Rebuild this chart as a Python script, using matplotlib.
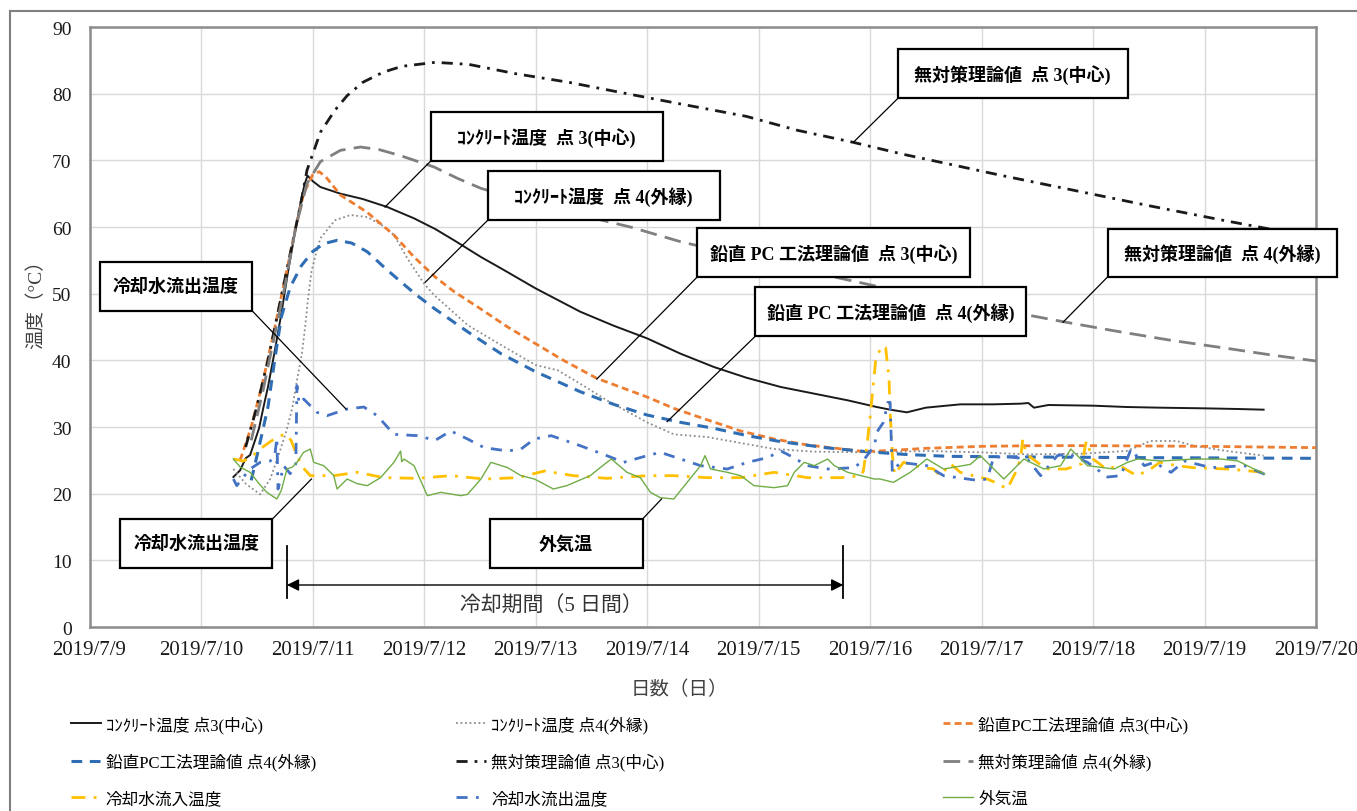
import matplotlib
matplotlib.use('Agg')
import matplotlib.pyplot as plt
from matplotlib.patches import Rectangle
from matplotlib.lines import Line2D

plt.rcParams['font.family'] = ['Liberation Serif', 'Noto Sans CJK JP']

# x = day of July 2019 (fractional), y = temperature (°C)
conc3_day = [10.29, 10.35, 10.40, 10.44, 10.48, 10.52, 10.56, 10.60, 10.66, 10.72, 10.78, 10.84, 10.90, 10.93,
             10.955, 11.0, 11.07, 11.25, 11.45, 11.67, 11.91, 12.10, 12.27, 12.51, 12.69, 13.0, 13.4, 13.7, 14.0,
             14.3, 14.6, 14.89, 15.2, 15.5, 15.8, 16.06, 16.18, 16.33, 16.5, 16.81, 17.1, 17.35, 17.42, 17.47,
             17.6, 18.0, 18.3, 18.6, 19.0, 19.3, 19.53]
conc3_temp = [22.5, 23.5, 25.3, 25.8, 27.8, 29.8, 33.0, 36.0, 41.3, 47.0, 53.3, 59.0, 64.3, 66.5,
              67.7, 66.9, 66.0, 65.0, 64.2, 63.0, 61.3, 59.7, 58.0, 55.5, 53.8, 50.8, 47.3, 45.2, 43.3,
              41.0, 39.0, 37.4, 36.0, 35.0, 34.0, 33.0, 32.6, 32.2, 32.9, 33.4, 33.4, 33.5, 33.6, 32.9,
              33.3, 33.2, 33.0, 32.9, 32.8, 32.7, 32.6]

conc4_day = [10.29, 10.4, 10.53, 10.62, 10.70, 10.77, 10.82, 10.86, 10.90, 10.93, 10.96, 10.99, 11.03, 11.07,
             11.2, 11.34, 11.49, 11.62, 11.73, 11.85, 12.0, 12.09, 12.39, 12.69, 13.0, 13.2, 13.4, 13.64, 14.0,
             14.24, 14.54, 14.84, 15.14, 15.5, 16.0, 16.51, 17.0, 17.4, 17.9, 18.3, 18.42, 18.51, 18.75, 18.9,
             19.2, 19.53]
conc4_temp = [23.7, 21.5, 19.9, 22.2, 26.0, 29.7, 33.0, 37.0, 40.5, 44.5, 49.3, 53.3, 56.0, 58.3,
              61.0, 61.8, 61.5, 60.3, 58.8, 55.3, 51.5, 49.8, 45.3, 42.3, 39.3, 38.5, 36.5, 34.0, 30.7,
              28.9, 28.5, 27.6, 26.7, 26.3, 26.2, 26.4, 26.2, 25.9, 26.0, 26.4, 27.2, 27.9, 27.9, 27.2,
              26.4, 25.7]

pc3_day = [10.35, 10.45, 10.55, 10.65, 10.75, 10.85, 10.92, 11.0, 11.06, 11.12, 11.25, 11.49, 11.73, 11.91,
           12.1, 12.27, 12.5, 12.75, 13.0, 13.25, 13.55, 14.0, 14.24, 14.5, 14.84, 15.14, 15.44, 15.7, 15.95,
           16.2, 16.5, 17.0, 17.5, 18.0, 19.0, 20.0]
pc3_temp = [25.0, 30.0, 36.5, 44.0, 52.0, 60.0, 65.0, 67.8, 68.3, 67.5, 64.8, 62.2, 58.8, 55.5,
            52.5, 50.3, 47.8, 45.0, 42.5, 40.0, 37.3, 34.5, 32.8, 31.3, 29.4, 28.2, 27.3, 26.8, 26.3,
            26.5, 26.8, 27.1, 27.2, 27.2, 27.1, 26.9]

pc4_day = [10.45, 10.52, 10.6, 10.66, 10.72, 10.8, 10.9, 11.0, 11.1, 11.22, 11.35, 11.49, 11.64, 11.79,
           11.94, 12.09, 12.39, 12.69, 13.0, 13.4, 13.7, 14.0, 14.3, 14.6, 14.9, 15.2, 15.6, 15.97, 16.3,
           16.7, 17.5, 18.5, 20.0]
pc4_temp = [22.0, 27.0, 33.0, 40.0, 46.5, 51.0, 54.2, 56.3, 57.5, 58.0, 57.6, 56.3, 54.0, 51.8,
            49.7, 47.8, 44.3, 41.0, 38.3, 35.3, 33.4, 31.8, 30.7, 29.8, 28.7, 27.8, 26.9, 26.3, 25.9,
            25.6, 25.5, 25.4, 25.3]

nt3_day = [10.4, 10.5, 10.6, 10.7, 10.8, 10.9, 10.95, 11.07, 11.2, 11.31, 11.45, 11.63, 11.8, 12.1, 12.4,
           12.82, 13.3, 13.85, 14.35, 14.89, 15.35, 15.85, 16.3, 16.72, 17.16, 17.8, 18.5, 19.2, 20.0]
nt3_temp = [27.0, 33.0, 40.0, 48.0, 56.0, 64.0, 68.5, 74.2, 77.5, 79.7, 81.7, 83.2, 84.1, 84.7, 84.4,
            83.0, 81.7, 79.9, 78.3, 76.6, 74.5, 72.7, 70.9, 69.4, 67.8, 65.6, 63.2, 60.9, 58.4]

nt4_day = [10.45, 10.55, 10.65, 10.75, 10.85, 10.95, 11.07, 11.25, 11.43, 11.6, 11.79, 12.09, 12.3, 12.51,
           12.82, 13.1, 13.4, 13.85, 14.3, 14.89, 15.2, 15.6, 16.09, 16.5, 16.96, 17.35, 17.73, 18.2, 18.7,
           19.2, 19.6, 20.0]
nt4_temp = [28.0, 35.0, 43.0, 51.0, 60.0, 66.5, 69.8, 71.5, 72.0, 71.6, 70.7, 69.0, 67.3, 65.8,
            64.3, 63.0, 61.8, 60.0, 57.8, 55.5, 54.3, 52.8, 51.0, 49.7, 48.3, 47.0, 45.8, 44.4, 43.0,
            41.8, 40.8, 39.9]

inflow_day = [10.29, 10.38, 10.45, 10.53, 10.62, 10.71, 10.77, 10.81, 10.86, 10.92, 10.98, 11.19, 11.4, 11.64,
              11.94, 12.24, 12.54, 12.84, 13.08, 13.34, 13.64, 14.0, 14.24, 14.54, 14.84, 15.14, 15.44, 15.74,
              15.92, 15.94, 15.97, 16.0, 16.05, 16.1, 16.14, 16.17, 16.18, 16.2, 16.22, 16.3, 16.45, 16.57,
              16.63, 16.72, 16.81, 16.9, 17.05, 17.15, 17.23, 17.3, 17.35, 17.37, 17.4, 17.46, 17.58, 17.76,
              17.9, 17.94, 17.97, 18.0, 18.12, 18.24, 18.39, 18.5, 18.6, 18.75, 18.9, 19.2, 19.35, 19.53]
inflow_temp = [25.2, 24.9, 25.5, 26.7, 27.8, 28.7, 28.9, 27.9, 25.7, 23.8, 22.7, 22.7, 23.2, 22.4,
               22.3, 22.7, 22.2, 22.4, 23.4, 22.7, 22.3, 22.7, 22.7, 22.4, 22.4, 23.2, 22.4, 22.4,
               22.7, 23.4, 26.9, 31.4, 39.9, 42.1, 41.9, 37.4, 32.4, 25.9, 22.9, 24.7, 24.0, 23.7,
               22.7, 24.5, 23.2, 22.8, 22.2, 21.5, 20.7, 23.0, 25.2, 28.2, 26.0, 25.2, 23.7, 23.7,
               24.5, 27.9, 26.5, 25.2, 23.7, 24.2, 22.7, 23.5, 24.7, 24.2, 23.9, 23.7, 23.5, 23.2]

outflow_day = [10.29, 10.32, 10.38, 10.44, 10.53, 10.62, 10.66, 10.68, 10.69, 10.71, 10.74, 10.8, 10.85, 10.86,
               10.88, 10.92, 11.04, 11.13, 11.31, 11.46, 11.58, 11.73, 11.94, 12.1, 12.24, 12.39, 12.54, 12.75,
               12.87, 12.99, 13.14, 13.4, 13.64, 13.79, 14.0, 14.12, 14.3, 14.48, 14.72, 14.9, 15.08, 15.2,
               15.26, 15.44, 15.62, 15.86, 15.95, 16.04, 16.06, 16.12, 16.16, 16.18, 16.19, 16.2, 16.27, 16.51,
               16.66, 16.96, 17.05, 17.11, 17.26, 17.41, 17.53, 17.68, 17.77, 17.95, 18.13, 18.25, 18.34, 18.46,
               18.55, 18.7, 18.82, 19.06, 19.36, 19.54]
outflow_temp = [22.2, 21.2, 22.5, 23.7, 24.7, 24.9, 25.5, 28.4, 20.7, 22.0, 24.2, 23.0, 24.5, 36.2,
                33.5, 34.2, 32.2, 31.7, 32.7, 33.0, 31.7, 28.9, 28.7, 28.0, 29.4, 28.2, 26.9, 26.4,
                26.7, 28.2, 28.7, 27.2, 25.7, 24.7, 25.7, 26.2, 25.2, 24.2, 23.7, 24.7, 25.4, 26.4,
                25.9, 24.2, 23.7, 23.9, 25.2, 27.2, 29.2, 30.7, 33.7, 33.7, 28.2, 23.2, 24.7, 24.2,
                22.7, 22.0, 22.2, 25.5, 25.5, 25.2, 22.7, 25.7, 26.0, 24.7, 22.5, 22.7, 26.7, 24.2,
                24.7, 23.2, 24.9, 23.9, 24.2, 22.9]

air_day = [10.29, 10.35, 10.44, 10.52, 10.59, 10.68, 10.72, 10.77, 10.82, 10.86, 10.92, 10.98, 11.01, 11.1,
           11.19, 11.22, 11.31, 11.4, 11.49, 11.61, 11.73, 11.79, 11.8, 11.82, 11.91, 12.03, 12.15, 12.33,
           12.39, 12.51, 12.6, 12.75, 12.87, 12.99, 13.16, 13.28, 13.49, 13.64, 13.68, 13.82, 13.94, 14.03,
           14.12, 14.24, 14.36, 14.48, 14.52, 14.57, 14.72, 14.84, 14.96, 15.14, 15.26, 15.32, 15.41, 15.5,
           15.62, 15.68, 15.8, 15.92, 16.04, 16.09, 16.21, 16.36, 16.51, 16.66, 16.9, 16.99, 17.2, 17.38,
           17.56, 17.71, 17.8, 17.95, 18.19, 18.31, 18.4, 18.61, 18.91, 19.15, 19.3, 19.54]
air_temp = [25.2, 24.0, 23.2, 21.5, 20.2, 19.2, 20.5, 23.7, 24.0, 24.7, 26.2, 26.7, 24.7, 24.2,
            22.7, 20.7, 22.2, 21.5, 21.2, 22.4, 24.7, 26.4, 24.8, 25.2, 24.2, 19.7, 20.2, 19.7,
            19.9, 22.2, 24.7, 23.9, 22.7, 22.2, 20.7, 21.2, 22.7, 24.7, 25.2, 23.2, 22.4, 20.2,
            19.4, 19.2, 21.7, 24.2, 25.7, 23.7, 23.2, 22.7, 21.2, 20.9, 21.2, 23.2, 24.7, 24.2,
            25.2, 24.2, 23.2, 22.7, 22.2, 22.2, 21.7, 23.2, 25.2, 23.7, 24.4, 25.7, 22.2, 25.2,
            23.7, 24.2, 26.7, 24.2, 23.7, 24.7, 25.2, 24.9, 25.2, 25.2, 24.9, 22.9]

labels = ['ｺﾝｸﾘｰﾄ温度 点3(中心)', 'ｺﾝｸﾘｰﾄ温度 点4(外縁)', '鉛直PC工法理論値 点3(中心)',
          '鉛直PC工法理論値 点4(外縁)', '無対策理論値 点3(中心)', '無対策理論値 点4(外縁)',
          '冷却水流入温度', '冷却水流出温度', '外気温']

x_ticks = list(range(9, 21))
x_ticklabels = [f'2019/7/{d}' for d in x_ticks]

fig = plt.figure(figsize=(13.57, 8.12), dpi=100)
ax = fig.add_axes([0.066, 0.2266, 0.9038, 0.7389])

lines = []
lines += ax.plot(conc3_day, conc3_temp, color='#1a1a1a', lw=1.4, label=labels[0], zorder=3)
lines += ax.plot(conc4_day, conc4_temp, color='#8c8c8c', lw=1.3, ls=(0, (1, 1.5)), label=labels[1], zorder=3)
lines += ax.plot(pc3_day, pc3_temp, color='#ED7D31', lw=2, dashes=(2.5, 1.5), label=labels[2], zorder=3)
lines += ax.plot(pc4_day, pc4_temp, color='#2F6EB5', lw=2.2, dashes=(3.5, 2.5), label=labels[3], zorder=3)
lines += ax.plot(nt3_day, nt3_temp, color='#1a1a1a', lw=2, dashes=(4, 2.5, 1, 2.5), label=labels[4], zorder=3)
lines += ax.plot(nt4_day, nt4_temp, color='#7f7f7f', lw=2, dashes=(6, 3), label=labels[5], zorder=3)
lines += ax.plot(inflow_day, inflow_temp, color='#FFC000', lw=2, dashes=(5, 3, 1, 3), label=labels[6], zorder=3)
lines += ax.plot(outflow_day, outflow_temp, color='#4472C4', lw=2, dashes=(4, 3, 1, 3), label=labels[7], zorder=3)
lines += ax.plot(air_day, air_temp, color='#70AD47', lw=1, label=labels[8], zorder=3)

ax.set_xlim(9, 20)
ax.set_ylim(0, 90)
ax.set_xticks(x_ticks)
ax.set_xticklabels(x_ticklabels)
ax.set_yticks(range(0, 91, 10))
ax.tick_params(axis='x', length=0, labelsize=15, colors='#1a1a1a', pad=9)
ax.tick_params(axis='y', length=0, labelsize=14, colors='#1a1a1a', pad=13)
ax.grid(color='#d9d9d9', lw=1)
ax.set_axisbelow(True)
for s in ax.spines.values():
    s.set_color('#8c8c8c')
    s.set_linewidth(1.8)

ax.set_ylabel('温度（°C）', fontsize=14, color='#404040')
ax.yaxis.set_label_coords(-0.036, 0.547)
ax.set_xlabel('日数（日）', fontsize=14, color='#404040')
ax.xaxis.set_label_coords(0.481, -0.088)

# callout boxes: (x0, x1, y0, y1) in data units, text, leader end point
boxes = [
    ((16.25, 18.31, 79.3, 86.7), '無対策理論値  点 3(中心)', (15.85, 72.7)),
    ((12.06, 14.14, 69.9, 77.2), 'ｺﾝｸﾘｰﾄ温度  点 3(中心)', (11.65, 63.0)),
    ((12.57, 14.65, 61.0, 68.4), 'ｺﾝｸﾘｰﾄ温度  点 4(外縁)', (12.01, 51.7)),
    ((14.45, 16.90, 52.5, 59.8), '鉛直 PC 工法理論値  点 3(中心)', (13.55, 37.2)),
    ((14.97, 17.40, 43.6, 51.0), '鉛直 PC 工法理論値  点 4(外縁)', (14.18, 30.8)),
    ((18.13, 20.19, 52.5, 59.7), '無対策理論値  点 4(外縁)', (17.73, 45.7)),
    ((9.09, 10.46, 47.4, 54.7), '冷却水流出温度', (11.30, 32.7)),
    ((9.27, 10.64, 8.85, 16.2), '冷却水流出温度', (10.99, 22.2)),
    ((12.59, 13.96, 8.85, 16.2), '外気温', (14.13, 19.2)),
]
for (x0, x1, y0, y1), txt, (px, py) in boxes:
    ax.add_patch(Rectangle((x0, y0), x1 - x0, y1 - y0, facecolor='white', edgecolor='black',
                           lw=1.6, zorder=6, clip_on=False))
    ax.text((x0 + x1) / 2, (y0 + y1) / 2, txt, ha='center', va='center', fontsize=13,
            fontweight='bold', zorder=7, clip_on=False)
    lx = x0 if px < x0 else x1
    ly = y0 if py < y0 else y1
    ax.plot([lx, px], [ly, py], color='black', lw=0.9, zorder=5)

# cooling period arrow
ax.annotate('', xy=(10.77, 6.3), xytext=(15.76, 6.3),
            arrowprops=dict(arrowstyle='<|-|>', color='black', lw=1, mutation_scale=18,
                            shrinkA=0, shrinkB=0))
ax.plot([10.77, 10.77], [4.3, 12.1], color='black', lw=1.3)
ax.plot([15.76, 15.76], [4.3, 12.1], color='black', lw=1.3)
ax.text(13.14, 3.2, '冷却期間（5 日間）', ha='center', va='center', fontsize=15, color='#333333')

# legend in three columns
for col, x in enumerate([0.052, 0.336, 0.695]):
    fig.legend(handles=[lines[col], lines[col + 3], lines[col + 6]], loc='upper left',
               bbox_to_anchor=(x, 0.1176), frameon=False, fontsize=12, handlelength=1.8,
               handletextpad=0.3, labelspacing=1.2, borderaxespad=0, borderpad=0)

# outer frame
fig.add_artist(Line2D([0.0074, 0.0074], [0, 0.985], color='#7f7f7f', lw=1.5))
fig.add_artist(Line2D([0.0074, 1], [0.985, 0.985], color='#7f7f7f', lw=1.5))

fig.savefig('out.png', dpi=100)
